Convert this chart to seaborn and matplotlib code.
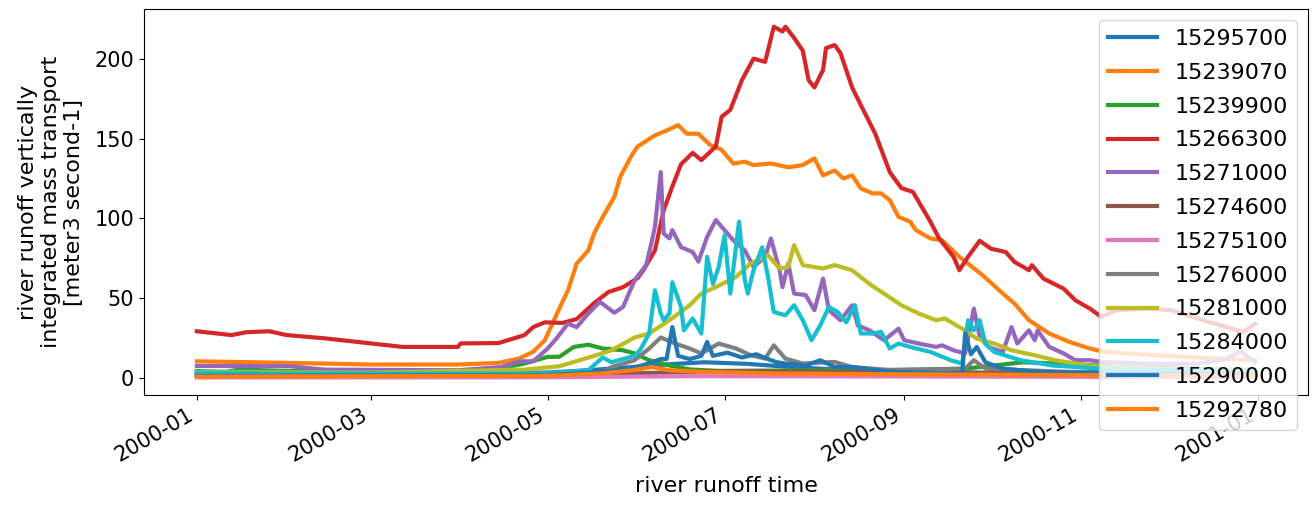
import numpy as np
import pandas as pd
import matplotlib
matplotlib.use("Agg")
import matplotlib.pyplot as plt
import matplotlib.dates as mdates
import seaborn as sns

plt.rcParams['font.size'] = 16
plt.rcParams['xtick.labelsize'] = 15
plt.rcParams['ytick.labelsize'] = 15
plt.rcParams['font.family'] = ['DejaVu Sans']

stations = ["15295700", "15239070", "15239900", "15266300", "15271000", "15274600",
            "15275100", "15276000", "15281000", "15284000", "15290000", "15292780"]

# day-of-year offsets (0 = 2000-01-01) and values
b1_days = [0, 120, 135, 150, 165, 175, 190, 205, 225, 250, 290, 365]
b1_vals = [3, 3.5, 5, 7, 9, 10, 9, 7, 5, 4, 3, 2]

orange_days = [0, 32, 60, 90, 104, 111, 116, 120, 125, 128, 131, 135, 137, 140, 144, 146, 150, 152,
               158, 162, 166, 169, 173, 177, 181, 185, 189, 192, 198, 204, 209, 213, 216, 220, 223,
               226, 229, 233, 236, 239, 242, 246, 248, 253, 257, 263, 271, 278, 282, 287, 294, 301,
               308, 312, 320, 335, 350, 365]
orange_vals = [10.6, 9.6, 8.6, 8.6, 9.6, 12.3, 16.5, 23.8, 43.6, 55, 71.8, 80, 90.6, 101, 113.5, 126,
               139.6, 145, 152, 155, 158.4, 153, 153, 146, 143, 134.4, 135.5, 133.4, 134.4, 132, 133.4,
               137.6, 127, 130, 125, 127, 118.8, 115.7, 115.7, 111.5, 101, 98, 92.7, 87.5, 86.4, 76,
               64.5, 53, 46.8, 36.3, 28, 22.7, 18.6, 17, 15.5, 14, 12.5, 11.3]

green_days = [0, 10, 15, 30, 100, 113, 121, 125, 130, 135, 140, 147, 151, 156, 163, 170, 180, 200,
              230, 250, 265, 275, 285, 300, 320, 365]
green_vals = [4.5, 4, 5.5, 4.5, 4.5, 9.2, 13.4, 13.4, 19.6, 21, 18.6, 17.5, 15.5, 11.3, 8, 5.5, 4.6,
              4.8, 5, 5.5, 6, 8, 10, 9, 7, 5]

red_days = [0, 12, 17, 25, 31, 44, 59, 71, 90, 91, 104, 113, 116, 120, 126, 131, 137, 142, 147, 152,
            154, 158, 161, 164, 167, 171, 174, 179, 181, 184, 188, 192, 196, 199, 202, 203, 206, 209,
            211, 213, 216, 217, 220, 222, 226, 229, 234, 239, 243, 247, 253, 256, 261, 263, 266, 270,
            274, 279, 282, 287, 288, 292, 299, 303, 308, 312, 317, 329, 336, 347, 361, 365]
red_vals = [29.4, 27, 28.8, 29.4, 27, 25, 22, 19.6, 19.6, 21.8, 22, 27, 32, 35, 34.6, 37, 47, 54, 57,
            62.6, 67.6, 80, 105, 120, 134, 141, 136.5, 145, 163.6, 168, 186.6, 200, 198, 220, 217, 220,
            213, 205, 186.6, 182, 193, 206.6, 208.5, 203.5, 182, 171, 153, 129, 119, 116.6, 98, 87.6,
            76, 67.6, 76, 86, 81, 79, 72.8, 67.6, 70.8, 62.4, 56, 48.8, 43.6, 38.4, 42.6, 43.6, 42.6,
            36.3, 29, 34]

purple_days = [0, 32, 44, 90, 105, 111, 116, 121, 124, 128, 131, 135, 139, 144, 147, 151, 155, 157,
               158, 160, 161, 163, 164, 167, 171, 173, 176, 179, 182, 185, 189, 192, 196, 198, 201,
               202, 204, 206, 210, 213, 216, 218, 222, 226, 228, 232, 237, 242, 244, 249, 255, 257,
               261, 265, 268, 270, 273, 278, 281, 283, 287, 289, 290, 294, 299, 303, 308, 312, 330,
               345, 355, 360, 365]
purple_vals = [7.7, 7.5, 5.4, 5, 7, 10.6, 10.6, 18.6, 24.8, 34.2, 32, 40.5, 47.8, 41, 44.6, 61.4, 70.8,
               86.4, 94.7, 129, 90.6, 87.5, 92.7, 82, 79, 73, 88.5, 99, 92.7, 86.4, 80, 69.7, 76, 87.5,
               67.6, 57, 71.8, 53, 52, 42.6, 62.4, 42.6, 36.3, 45.7, 33, 30, 23.8, 31, 23.8, 21.7, 19.6,
               20.6, 17.5, 15.5, 43.6, 26, 19.6, 16.5, 32, 21.7, 30, 23.8, 30, 19.6, 15.5, 11.3, 11.3,
               10.2, 9, 9, 12, 17, 10]

brown_days = [0, 120, 150, 180, 220, 260, 300, 365]
brown_vals = [2, 2, 3, 4.5, 4, 3.5, 3, 2]

pink_days = [0, 120, 170, 220, 280, 365]
pink_vals = [0.5, 0.6, 1.3, 1.2, 1, 0.6]

gray_days = [0, 120, 140, 143, 151, 156, 160, 165, 170, 174, 180, 186, 191, 196, 199, 203, 209, 220,
             226, 240, 265, 268, 272, 300, 365]
gray_vals = [1.5, 2, 4, 7, 11.3, 18.6, 25.5, 21.7, 18.6, 15.5, 21.7, 18.6, 14.4, 12.3, 20.6, 12.3, 9.2,
             10.2, 7, 5, 6, 11.3, 6, 4, 3]

yellow_days = [0, 60, 113, 125, 136, 143, 151, 156, 163, 170, 174, 179, 186, 191, 197, 201, 204, 206,
               209, 216, 220, 226, 232, 237, 243, 249, 255, 258, 264, 269, 275, 281, 289, 296, 307,
               313, 340, 365]
yellow_vals = [4, 3.5, 5.4, 7.5, 13.4, 17.5, 25.5, 28, 36.3, 45.7, 53, 57, 63.4, 71.8, 77, 68.7, 69.7,
               83.3, 70.8, 68.7, 70.8, 67.6, 59, 53, 45.7, 40.5, 36.3, 37.4, 31, 24.8, 21.7, 17.5, 14.4,
               11.3, 8, 7, 5.5, 4.5]

cyan_days = [0, 30, 120, 135, 140, 143, 151, 153, 156, 158, 160, 161, 163, 164, 167, 168, 171, 174,
             176, 178, 180, 182, 184, 187, 189, 190, 192, 195, 197, 199, 203, 206, 209, 212, 215, 218,
             221, 224, 227, 229, 233, 236, 239, 242, 246, 253, 260, 264, 266, 268, 270, 272, 275, 284,
             295, 312, 340, 365]
cyan_vals = [3.5, 3, 3, 5, 13, 10, 14, 18, 28, 55, 40.5, 36.3, 40.5, 60, 44.6, 30, 37.4, 28, 76, 59,
             69.7, 89.5, 53, 98, 61.4, 53, 67.6, 82, 63.4, 41.5, 39.4, 45.7, 36.3, 23.8, 33, 44.6, 41.5,
             35, 45.7, 28, 28, 29, 18.6, 21.7, 19.6, 16.5, 11.3, 9.2, 36.3, 30, 36.3, 21.7, 16.5, 11.3,
             8, 6, 5, 4]

b2_days = [0, 120, 140, 150, 157, 160, 162, 164, 166, 170, 174, 176, 178, 183, 188, 193, 197, 200,
           204, 210, 215, 220, 226, 240, 262, 264, 265, 267, 269, 272, 278, 290, 365]
b2_vals = [1.5, 2, 4, 6, 10, 12, 12, 32, 14, 12, 14, 22.7, 14, 16, 13, 15, 12, 10, 9, 8, 11.3, 7, 7,
           4, 3, 3, 28, 15, 19.6, 10, 6, 4, 2]

o2_days = [0, 120, 140, 150, 157, 163, 175, 200, 240, 300, 365]
o2_vals = [1, 1.5, 3, 5, 7, 5, 4, 3, 2.5, 2, 1.5]

series = [(b1_days, b1_vals), (orange_days, orange_vals), (green_days, green_vals),
          (red_days, red_vals), (purple_days, purple_vals), (brown_days, brown_vals),
          (pink_days, pink_vals), (gray_days, gray_vals), (yellow_days, yellow_vals),
          (cyan_days, cyan_vals), (b2_days, b2_vals), (o2_days, o2_vals)]

start = pd.Timestamp("2000-01-01")
frames = []
for name, (d, v) in zip(stations, series):
    frames.append(pd.DataFrame({
        "time": start + pd.to_timedelta(np.array(d), unit="D"),
        "value": v,
        "station": name,
    }))
df = pd.concat(frames, ignore_index=True)

fig, ax = plt.subplots(figsize=(13.16, 5.09), dpi=100)
fig.subplots_adjust(left=0.1094, right=0.9939, top=0.982, bottom=0.224)

palette = sns.color_palette("tab10", 12)
sns.lineplot(data=df, x="time", y="value", hue="station", hue_order=stations,
             palette=palette, estimator=None, linewidth=3, ax=ax, legend="full")

handles, labels = ax.get_legend_handles_labels()
leg = ax.legend(handles, labels, loc="upper right", fontsize=16,
                handlelength=2.2, labelspacing=0.62)
for h in leg.get_lines():
    h.set_linewidth(3)

ax.xaxis.set_major_locator(mdates.MonthLocator(bymonth=[1, 3, 5, 7, 9, 11]))
ax.xaxis.set_major_formatter(mdates.DateFormatter("%Y-%m"))
for lbl in ax.get_xticklabels():
    lbl.set_rotation(30)
    lbl.set_ha("right")

ax.set_xlabel("river runoff time", fontsize=16, labelpad=7.5)
ax.set_ylabel("river runoff vertically\nintegrated mass transport\n[meter3 second-1]",
              fontsize=16, labelpad=7.5)
ax.set_yticks([0, 50, 100, 150, 200])

fig.savefig("out.png", dpi=100)
